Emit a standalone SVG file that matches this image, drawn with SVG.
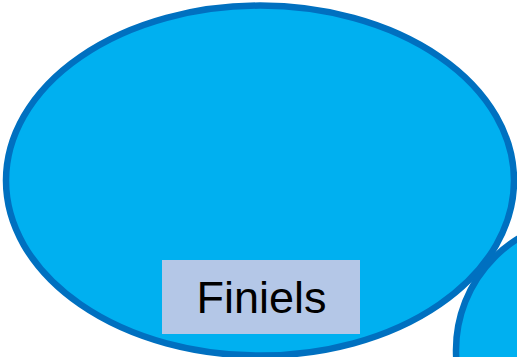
<svg xmlns="http://www.w3.org/2000/svg" width="517" height="357" viewBox="0 0 517 357">
<style>
.blob{fill:#00B0F0;stroke:#0070C0;stroke-width:6.5}
.lbl{fill:#B4C7E7}
.txt{font-family:"Liberation Sans",Arial,sans-serif;font-size:45px;fill:#000;text-anchor:middle}
</style>
<rect width="517" height="357" fill="#fff"/>
<g id="node-finiels">
<ellipse class="blob" cx="260" cy="180.6" rx="254" ry="175"/>
</g>
<g id="node-2">
<circle class="blob" cx="587" cy="350" r="131"/>
</g>
<g id="label-finiels">
<rect class="lbl" x="162" y="260" width="198" height="74"/>
<text class="txt" x="261.5" y="313">Finiels</text>
</g>
<g id="connectors"/>
</svg>
